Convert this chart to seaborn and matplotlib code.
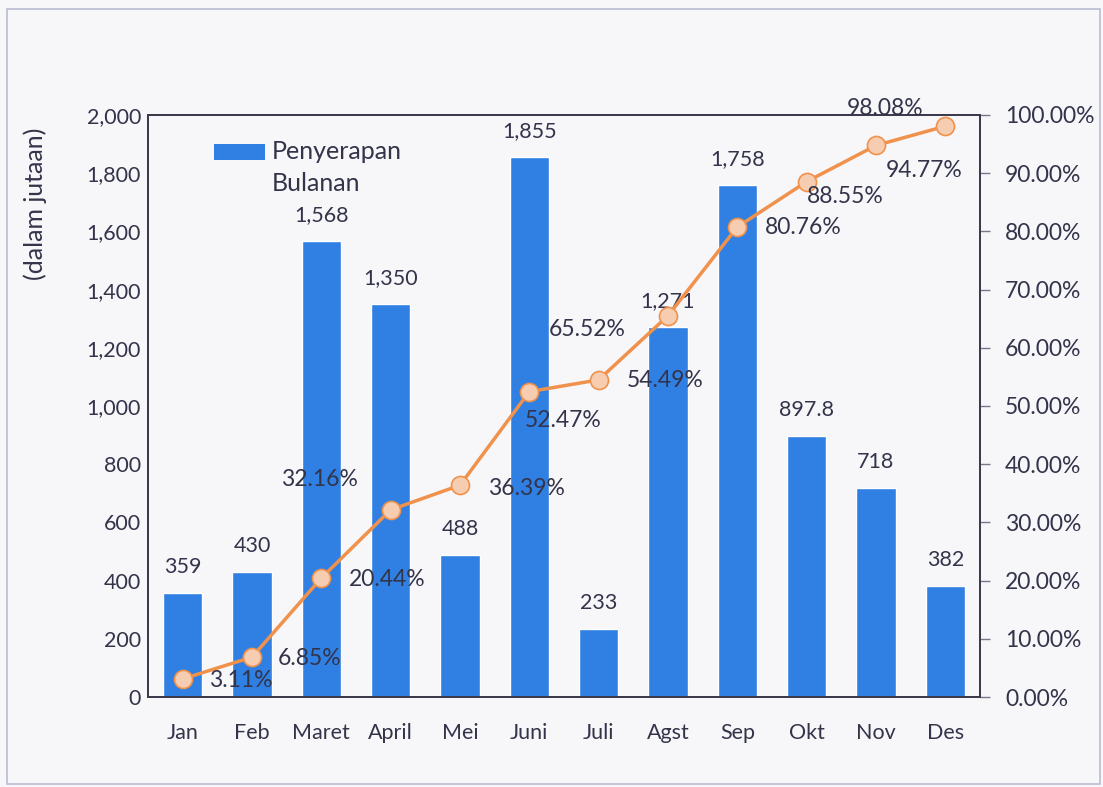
import matplotlib
matplotlib.use("Agg")
import matplotlib.pyplot as plt
import matplotlib.ticker as mticker
from matplotlib.patches import Rectangle, Patch
import seaborn as sns
import pandas as pd

# Data
months = ["Jan", "Feb", "Maret", "April", "Mei", "Juni",
          "Juli", "Agst", "Sep", "Okt", "Nov", "Des"]
monthly = [359, 430, 1568, 1350, 488, 1855, 233, 1271, 1758, 897.8, 718, 382]
monthly_labels = ["359", "430", "1,568", "1,350", "488", "1,855",
                  "233", "1,271", "1,758", "897.8", "718", "382"]
cumulative_pct = [3.11, 6.85, 20.44, 32.16, 36.39, 52.47,
                  54.49, 65.52, 80.76, 88.55, 94.77, 98.08]

# label offsets (pixels) for the percentage labels, as placed in the original
pct_offsets = [(58, -2), (58, -1), (66, -1), (-71, 30), (66, -3), (34, -29),
               (66, -1), (-81, -14), (66, -1), (39, -15), (48, -25), (-60, 18)]

BAR_COLOR = "#2F80E2"
LINE_COLOR = "#F0914C"
MARKER_FILL = "#F6CDB0"
TEXT_COLOR = "#33334A"
BG = "#F7F7FA"
FS = 15.5
FS_PCT = 16.5


def main():
    sns.set_theme(style="white")
    plt.rcParams["font.family"] = ["Lato", "DejaVu Sans"]
    plt.rcParams["text.color"] = TEXT_COLOR

    df = pd.DataFrame({"Bulan": months, "Penyerapan": monthly, "Kumulatif": cumulative_pct})

    fig = plt.figure(figsize=(11.03, 7.87), dpi=100, facecolor=BG)
    ax = fig.add_axes([148 / 1103, 1 - 697 / 787, 832 / 1103, 582 / 787])
    ax.set_facecolor(BG)

    sns.barplot(data=df, x="Bulan", y="Penyerapan", color=BAR_COLOR, width=0.57,
                saturation=1, ax=ax)
    ax.set_ylim(0, 2000)
    ax.set_xlim(-0.5, 11.5)
    ax.yaxis.set_major_locator(mticker.MultipleLocator(200))
    ax.yaxis.set_major_formatter(mticker.FuncFormatter(lambda v, p: f"{v:,.0f}"))
    ax.set_xlabel("")
    ax.set_ylabel("")
    ax.tick_params(axis="y", labelsize=FS, colors=TEXT_COLOR, length=0, pad=5)
    ax.tick_params(axis="x", labelsize=FS, colors=TEXT_COLOR, length=0, pad=19)

    for i, (v, lab) in enumerate(zip(monthly, monthly_labels)):
        ax.annotate(lab, (i, v), xytext=(0, 26), textcoords="offset pixels",
                    ha="center", va="center", fontsize=FS, color=TEXT_COLOR)

    ax2 = ax.twinx()
    sns.lineplot(x=list(range(len(months))), y=cumulative_pct, ax=ax2, color=LINE_COLOR,
                 linewidth=2.5, marker="o", markersize=13, markerfacecolor=MARKER_FILL,
                 markeredgecolor=LINE_COLOR, markeredgewidth=1.2, zorder=3)
    ax2.set_ylim(0, 100)
    ax2.yaxis.set_major_locator(mticker.MultipleLocator(10))
    ax2.yaxis.set_major_formatter(mticker.FuncFormatter(lambda v, p: f"{v:.2f}%"))
    ax2.tick_params(axis="y", labelsize=FS_PCT, labelcolor=TEXT_COLOR, color="#777788",
                    length=7, width=1, direction="out", pad=11)

    for i, (v, off) in enumerate(zip(cumulative_pct, pct_offsets)):
        ax2.annotate(f"{v:.2f}%", (i, v), xytext=off, textcoords="offset pixels",
                     ha="center", va="center", fontsize=FS_PCT, color=TEXT_COLOR)

    for a in (ax, ax2):
        for s in a.spines.values():
            s.set_color("#3A3A4A")
            s.set_linewidth(1.3)

    handles = [Patch(facecolor=BAR_COLOR, edgecolor="none")]
    leg = ax.legend(handles, ["Penyerapan\nBulanan"], loc="upper left",
                    bbox_to_anchor=(0.052, 0.995), frameon=False, fontsize=18,
                    handlelength=2.05, handleheight=0.6, handletextpad=0.28)
    for t in leg.get_texts():
        t.set_color(TEXT_COLOR)
        t.set_linespacing(1.46)
    # keep the colour swatch level with the first line of text
    for h in leg.legend_handles:
        h.set_y(h.get_y() + 12)

    fig.text(35 / 1103, 1 - 204 / 787, "(dalam jutaan)", rotation=90, ha="center",
             va="center", fontsize=18, color=TEXT_COLOR)

    fig.patches.append(Rectangle((7 / 1103, 3 / 787), 1093 / 1103, 775 / 787,
                                 transform=fig.transFigure, fill=False,
                                 edgecolor="#B9BDD2", linewidth=1.2))

    fig.savefig("out.png", dpi=100, facecolor=BG)
    plt.close(fig)


if __name__ == "__main__":
    main()
